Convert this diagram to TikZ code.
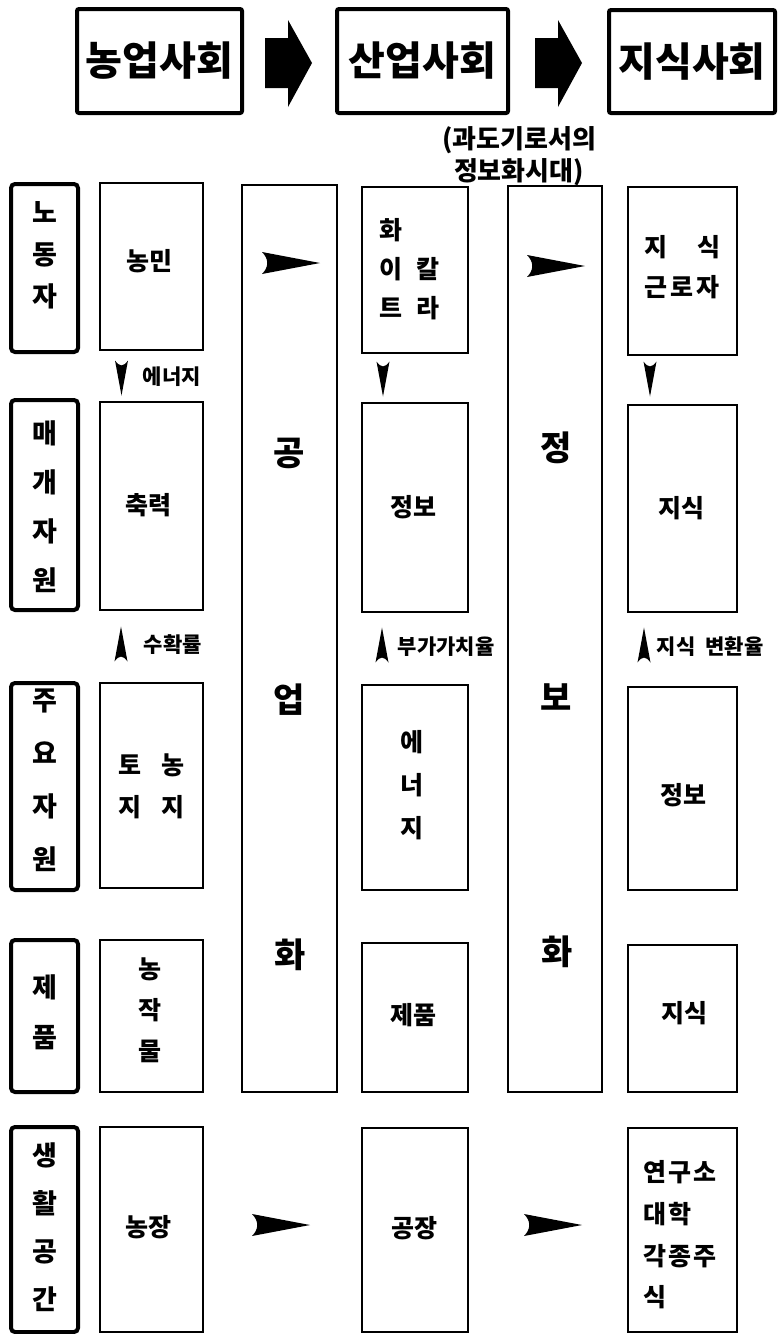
\documentclass[tikz,border=0pt]{standalone}
\usepackage{fontspec}
\setmainfont{Noto Sans CJK KR}
\usepackage{tikz}
\usetikzlibrary{fit}
\tikzset{
  every picture/.append style={line width=0.8pt},
  every node/.append style={inner sep=0pt},
}
\tikzset{
  cell/.style={draw, line width=0.8pt},
  rowbox/.style={draw, line width=2pt, rounded corners=2pt},
  erabox/.style={draw, line width=2pt, rounded corners=1pt},
  dart/.pic={\fill (-29,-11) -- (29,0) -- (-29,11) .. controls (-22,4) and (-22,-4) .. (-29,-11) -- cycle;},
  vdart/.pic={\fill (-6.5,-17.5) .. controls (-2,-11) and (2,-11) .. (6.5,-17.5) -- (0,17.5) -- cycle;},
  fatarrow/.pic={\fill (-23,-25) -- (0,-25) -- (0,-43) -- (24,0) -- (0,44) -- (0,25) -- (-23,25) -- cycle;}
}

\begin{document}
\begin{tikzpicture}[
    x=0.5pt, y=-0.5pt,
    eratxt/.style={font=\bfseries\fontsize{20}{22}\selectfont},
    rowtxt/.style={font=\bfseries\fontsize{13.5}{#1}\selectfont, align=center},
    celltxt/.style={font=\bfseries\fontsize{12.5}{#1}\selectfont, align=center},
    bandtxt/.style={font=\bfseries\fontsize{17}{18}\selectfont},
    note/.style={font=\bfseries\fontsize{10.5}{12}\selectfont, anchor=west}
]
\useasboundingbox (0,0) rectangle (777,1334);

\node[erabox, fit={(77,9) (242,113)}] (agri) {};
\node[eratxt] (agri-t) at (agri) {농업사회};
\node[erabox, fit={(337,9) (508,113)}] (ind) {};
\node[eratxt] (ind-t) at (ind) {산업사회};
\node[erabox, fit={(609,10) (775,113)}] (know) {};
\node[eratxt] (know-t) at (know) {지식사회};
\pic at (288,63) {fatarrow};
\pic at (558,63) {fatarrow};
\node[font=\bfseries\fontsize{13}{16}\selectfont, align=center] (trans) at (519,156) {(과도기로서의\\정보화시대)};

\node[rowbox, fit={(11,184) (78,352)}] (labor) {};
\node[rowtxt=21] (labor-t) at (44.5,255) {노\\동\\자};
\node[rowbox, fit={(11,400) (78,610)}] (medium) {};
\node[rowtxt=24.5] (medium-t) at (44.5,507) {매\\개\\자\\원};
\node[rowbox, fit={(11,683) (78,890)}] (resource) {};
\node[rowtxt=26.5] (resource-t) at (44.5,780) {주\\요\\자\\원};
\node[rowbox, fit={(11,940) (78,1092)}] (product) {};
\node[rowtxt=25] (product-t) at (44.5,1012) {제\\품};
\node[rowbox, fit={(11,1127) (78,1332)}] (space) {};
\node[rowtxt=24] (space-t) at (44.5,1227) {생\\활\\공\\간};

\node[cell, fit={(242,185) (337,1092)}] (indband) {};
\node[bandtxt] (indband-1) at (289,453) {공};
\node[bandtxt] (indband-2) at (289,700) {업};
\node[bandtxt] (indband-3) at (290,955) {화};
\node[cell, fit={(508,186) (602,1092)}] (infoband) {};
\node[bandtxt] (infoband-1) at (556,448) {정};
\node[bandtxt] (infoband-2) at (556,697) {보};
\node[bandtxt] (infoband-3) at (557,952) {화};

\node[cell, fit={(100,183) (203,350)}] (farmer) {};
\node[celltxt=20] (farmer-t) at (149,261) {농민};
\node[cell, fit={(100,402) (203,610)}] (animal) {};
\node[celltxt=20] (animal-t) at (148,505) {축력};
\node[cell, fit={(100,683) (203,888)}] (land) {};
\node[celltxt=21, align=left] (land-t) at (151.5,786) {토\hspace{10pt}농\\지\hspace{10pt}지};
\node[cell, fit={(100,940) (203,1092)}] (crops) {};
\node[celltxt=20.5] (crops-t) at (150,1010) {농\\작\\물};
\node[cell, fit={(100,1127) (203,1332)}] (farm) {};
\node[celltxt=20] (farm-t) at (148,1227) {농장};

\node[cell, fit={(362,187) (468,353)}] (collar) {};
\node[celltxt=19.5, align=left] (collar-t) at (409.5,269) {화\\이\hspace{7pt}칼\\트\hspace{7pt}라};
\node[cell, fit={(362,403) (468,612)}] (info) {};
\node[celltxt=20] (info-t) at (413,507) {정보};
\node[cell, fit={(362,685) (468,890)}] (energy) {};
\node[celltxt=21.5] (energy-t) at (412,785) {에\\너\\지};
\node[cell, fit={(362,943) (468,1092)}] (goods) {};
\node[celltxt=20] (goods-t) at (413,1015) {제품};
\node[cell, fit={(362,1128) (468,1332)}] (factory) {};
\node[celltxt=20] (factory-t) at (414,1228) {공장};

\node[cell, fit={(628,187) (737,355)}] (worker) {};
\node[celltxt=20] (worker-t) at (682,267) {지\hspace{15pt}식\\근\kern1.5pt 로\kern1.5pt 자};
\node[cell, fit={(628,405) (737,612)}] (knowledge) {};
\node[celltxt=20] (knowledge-t) at (681,508) {지식};
\node[cell, fit={(628,687) (737,890)}] (infores) {};
\node[celltxt=20] (infores-t) at (683,795) {정보};
\node[cell, fit={(628,945) (737,1092)}] (knowgoods) {};
\node[celltxt=20] (knowgoods-t) at (684,1013) {지식};
\node[cell, fit={(628,1128) (737,1332)}] (lab) {};
\node[celltxt=20.8, align=left, anchor=west] (lab-t) at (643,1235) {연\kern1pt 구\kern1pt 소\\대\kern1pt 학\\각\kern1pt 종\kern1pt 주\\식};

\pic at (291,263) {dart};
\pic at (556,266) {dart};
\pic at (281,1225) {dart};
\pic at (553,1225) {dart};

\pic at (121.5,378) {vdart};
\node[note] (fuel) at (142,377) {에너지};
\pic at (383,379) {vdart};
\pic at (650,379) {vdart};

\pic[rotate=180] at (121,644) {vdart};
\node[note] (yield) at (143,645) {수확률};
\pic[rotate=180] at (382,645) {vdart};
\node[note] (addval) at (397,647) {부가가치율};
\pic[rotate=180] at (644,645) {vdart};
\node[note] (convert) at (656,647) {지식\hspace{5pt}변환율};
\end{tikzpicture}
\end{document}
